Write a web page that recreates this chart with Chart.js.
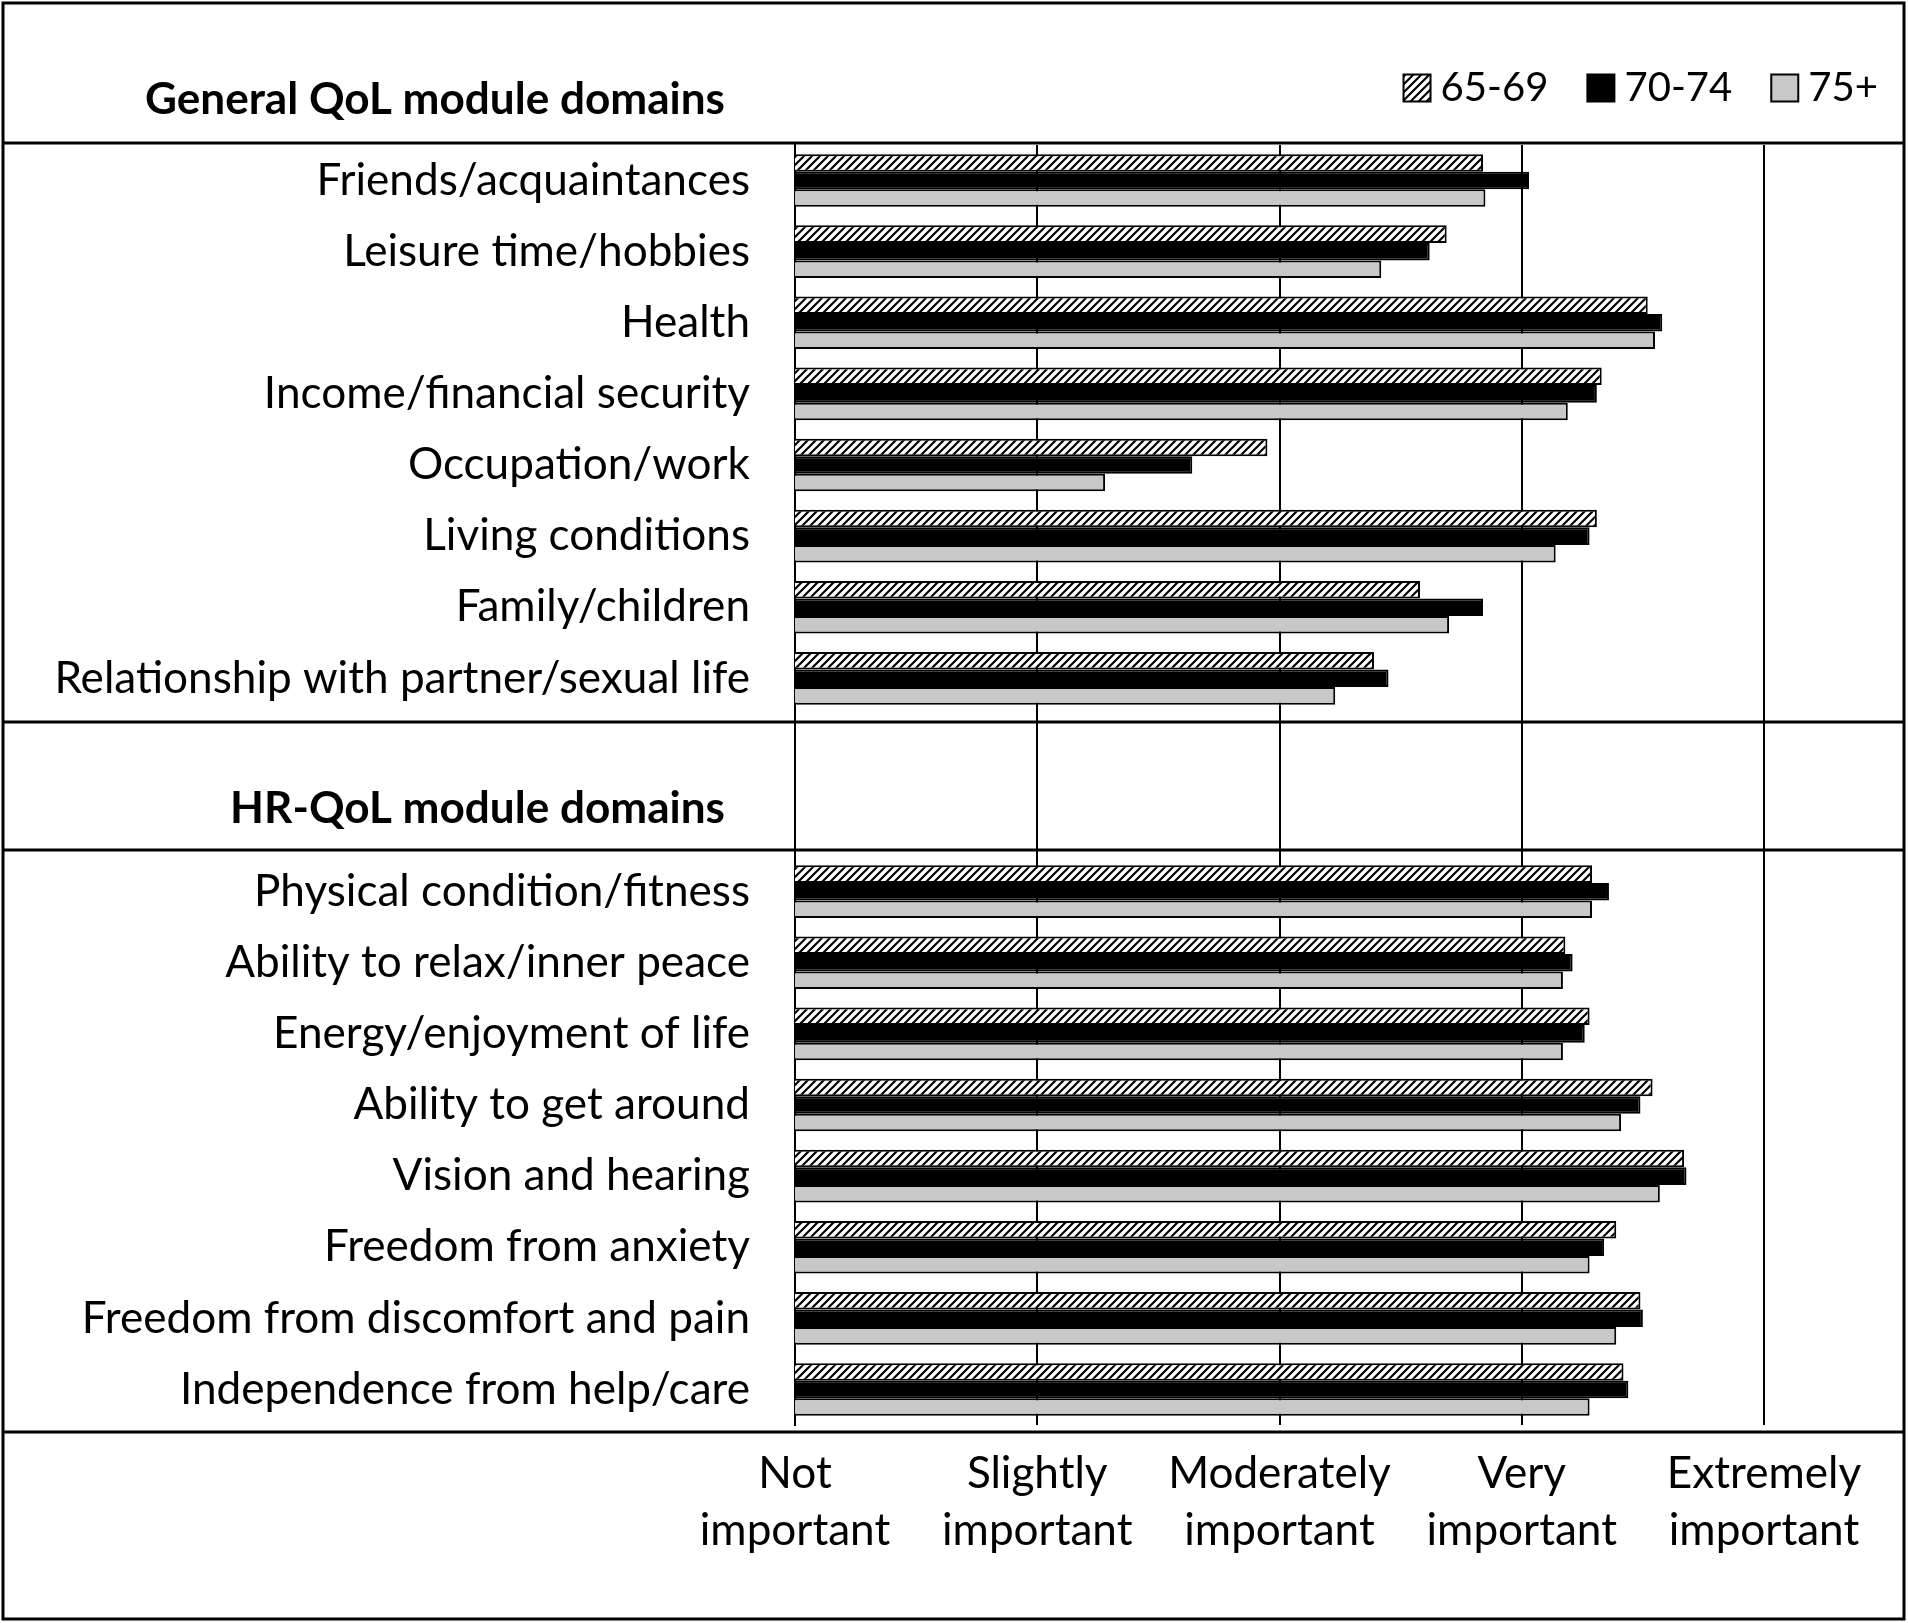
<!DOCTYPE html>
<html>
<head>
<meta charset="utf-8">
<script src="https://cdn.jsdelivr.net/npm/chart.js@4.4.1/dist/chart.umd.min.js"></script>
<style>
  html, body { margin: 0; padding: 0; background: #fff; }
  #wrap { width: 1908px; height: 1623px; }
</style>
</head>
<body>
<div id="wrap"><canvas id="qolChart" width="1908" height="1623"></canvas></div>
<script>
// --- data (mean importance, 1 = not ... 5 = extremely) ---
const generalDomains = [
  "Friends/acquaintances",
  "Leisure time/hobbies",
  "Health",
  "Income/financial security",
  "Occupation/work",
  "Living conditions",
  "Family/children",
  "Relationship with partner/sexual life"
];
const hrDomains = [
  "Physical condition/fitness",
  "Ability to relax/inner peace",
  "Energy/enjoyment of life",
  "Ability to get around",
  "Vision and hearing",
  "Freedom from anxiety",
  "Freedom from discomfort and pain",
  "Independence from help/care"
];
// two empty rows hold the HR-QoL header
const categories = [...generalDomains, "", "", ...hrDomains];

const ageGroups = ["65-69", "70-74", "75+"];
const age6569 = [3.84, 3.69, 4.52, 4.33, 2.95, 4.31, 3.58, 3.39, null, null,
                 4.29, 4.18, 4.28, 4.54, 4.67, 4.39, 4.49, 4.42];
const age7074 = [4.03, 3.62, 4.58, 4.31, 2.64, 4.28, 3.84, 3.45, null, null,
                 4.36, 4.21, 4.26, 4.49, 4.68, 4.34, 4.50, 4.44];
const age75   = [3.85, 3.42, 4.55, 4.19, 2.28, 4.14, 3.70, 3.23, null, null,
                 4.29, 4.17, 4.17, 4.41, 4.57, 4.28, 4.39, 4.28];

const scaleLabels = [
  ["Not", "important"],
  ["Slightly", "important"],
  ["Moderately", "important"],
  ["Very", "important"],
  ["Extremely", "important"]
];
const sectionTitles = ["General QoL module domains", "HR-QoL module domains"];

// --- fonts: size chosen so the text spans the same width as the original ---
const FAMILY = "Lato, 'Open Sans', sans-serif";
function fitFont(text, weight, targetWidth) {
  const c = document.createElement("canvas").getContext("2d");
  c.font = `${weight} 100px ${FAMILY}`;
  return Math.round(1000 * targetWidth / c.measureText(text).width) / 10;
}
const labelSize = fitFont("Relationship with partner/sexual life", "normal", 695);
const titleSize = fitFont("General QoL module domains", "bold", 580);
const legendSize = fitFont("70-74", "normal", 108);

// --- hatched fill for 65-69 ---
function makeHatch() {
  const s = 8;
  const c = document.createElement("canvas");
  c.width = s; c.height = s;
  const g = c.getContext("2d");
  g.fillStyle = "#fff";
  g.fillRect(0, 0, s, s);
  g.strokeStyle = "#000";
  g.lineWidth = 2.2;
  g.beginPath();
  g.moveTo(0, s); g.lineTo(s, 0);
  g.moveTo(-2, 2); g.lineTo(2, -2);
  g.moveTo(s - 2, s + 2); g.lineTo(s + 2, s - 2);
  g.stroke();
  return g.createPattern(c, "repeat");
}
const hatch = makeHatch();
const fills = [hatch, "#000000", "#c8c8c8"];

// --- frame, section headers and legend drawn on top of the chart ---
const framePlugin = {
  id: "frame",
  afterDraw(chart) {
    const ctx = chart.ctx;
    ctx.save();
    ctx.strokeStyle = "#000";
    ctx.lineWidth = 3;
    ctx.strokeRect(3, 3, 1901, 1616);
    [143, 722, 850, 1432].forEach(y => {
      ctx.beginPath();
      ctx.moveTo(3, y); ctx.lineTo(1904, y);
      ctx.stroke();
    });

    // section headers
    ctx.fillStyle = "#000";
    ctx.font = `bold ${titleSize}px ${FAMILY}`;
    ctx.textAlign = "right";
    ctx.textBaseline = "middle";
    ctx.fillText(sectionTitles[0], 725, 100);
    ctx.fillText(sectionTitles[1], 725, 809);

    // legend, laid out from the right edge
    ctx.font = `${legendSize}px ${FAMILY}`;
    ctx.textAlign = "left";
    const box = 27, gap = 10, spacing = 39, cy = 88;
    let x = 1878;
    const items = chart.data.datasets.map(d => d).reverse();
    items.forEach(ds => {
      const tw = ctx.measureText(ds.label).width;
      const tx = x - tw;
      const bx = tx - gap - box;
      ctx.fillStyle = ds.backgroundColor;
      ctx.fillRect(bx, cy - box / 2, box, box);
      ctx.lineWidth = 2;
      ctx.strokeStyle = "#000";
      ctx.strokeRect(bx, cy - box / 2, box, box);
      ctx.fillStyle = "#000";
      ctx.fillText(ds.label, tx, cy);
      x = bx - spacing;
    });
    ctx.restore();
  }
};

const seriesValues = [age6569, age7074, age75];

new Chart(document.getElementById("qolChart"), {
  type: "bar",
  data: {
    labels: categories,
    datasets: ageGroups.map((name, i) => ({
      label: name,
      data: seriesValues[i],
      backgroundColor: fills[i],
      borderColor: "#000",
      borderWidth: 2,
      borderSkipped: false,
      categoryPercentage: 0.74,
      barPercentage: 1.0
    }))
  },
  options: {
    indexAxis: "y",
    responsive: false,
    devicePixelRatio: 1,
    animation: false,
    layout: { padding: { top: 145, right: 144, left: 0, bottom: 0 } },
    plugins: {
      legend: { display: false },
      tooltip: { enabled: false }
    },
    scales: {
      x: {
        type: "linear",
        position: "bottom",
        min: 1,
        max: 5,
        afterFit(s) { s.height = 198; },
        grid: { color: "#000", lineWidth: 2, drawTicks: false },
        border: { display: false },
        ticks: {
          stepSize: 1,
          includeBounds: false,
          padding: 20,
          color: "#000",
          font: { family: FAMILY, size: labelSize, lineHeight: 57 / labelSize },
          callback: v => scaleLabels[Math.round(v) - 1]
        }
      },
      y: {
        type: "category",
        afterFit(s) { s.width = 795; },
        grid: { display: false, drawTicks: false },
        border: { display: true, color: "#000", width: 2 },
        ticks: {
          autoSkip: false,
          padding: 45,
          color: "#000",
          font: { family: FAMILY, size: labelSize }
        }
      }
    }
  },
  plugins: [framePlugin]
});
</script>
</body>
</html>
